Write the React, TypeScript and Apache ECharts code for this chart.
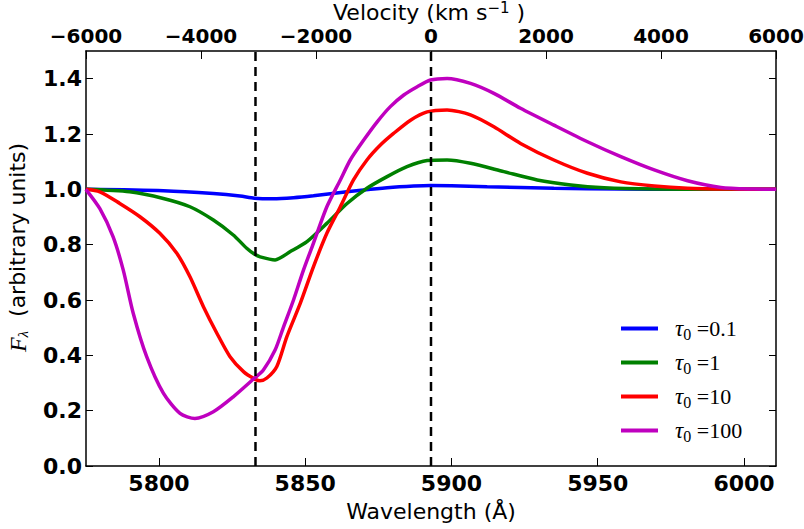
import React, { useEffect, useRef } from "react";
import * as echarts from "echarts";

const wavelengthTicks = [5800, 5850, 5900, 5950, 6000];
const fluxTicks = [0, 0.2, 0.4, 0.6, 0.8, 1.0, 1.2, 1.4];
const markerWavelengths = [5833, 5893];

const blueWave = [5775, 5801.5, 5818.6, 5827.7, 5832.6, 5839.1, 5846, 5852.8, 5860, 5870, 5878, 5887.1, 5892.8, 5900, 5912.2, 5935, 5957.9, 5980, 6011];
const blueFlux = [1.0, 0.995, 0.985, 0.976, 0.968, 0.966, 0.97, 0.977, 0.986, 0.998, 1.006, 1.012, 1.014, 1.013, 1.009, 1.004, 1.001, 1.0, 1.0];

const greenWave = [5775, 5790, 5801.5, 5810.6, 5818.6, 5825.4, 5830, 5832.6, 5834.6, 5839.7, 5844.9, 5850.6, 5857.4, 5864.3, 5871.1, 5878, 5884.8, 5891.7, 5898.5, 5906.5, 5917.9, 5929.3, 5940.8, 5952.2, 5969.3, 5990, 6011];
const greenFlux = [1.0, 0.991, 0.967, 0.937, 0.889, 0.835, 0.787, 0.766, 0.756, 0.745, 0.775, 0.811, 0.877, 0.949, 1.004, 1.046, 1.082, 1.104, 1.106, 1.094, 1.064, 1.034, 1.016, 1.006, 1.001, 1.0, 1.0];

const redWave = [5775, 5779.8, 5786.6, 5793.5, 5800.3, 5806.1, 5810.6, 5815.2, 5819.8, 5824.3, 5828.9, 5832.6, 5834.5, 5836.9, 5840.3, 5843.7, 5848.3, 5852.8, 5857.4, 5862, 5866.5, 5871.1, 5875.7, 5880.2, 5886, 5891.7, 5898.5, 5906.5, 5914.5, 5923.6, 5935, 5946.5, 5957.9, 5969.3, 5980.7, 5995, 6011];
const redFlux = [1.0, 0.991, 0.949, 0.901, 0.841, 0.769, 0.684, 0.576, 0.48, 0.395, 0.341, 0.315, 0.308, 0.318, 0.36, 0.467, 0.588, 0.72, 0.841, 0.937, 1.034, 1.106, 1.16, 1.202, 1.25, 1.28, 1.287, 1.269, 1.226, 1.166, 1.106, 1.058, 1.027, 1.012, 1.004, 1.001, 1.0];

const magentaWave = [5775, 5779.8, 5784.3, 5787.8, 5791.2, 5795.8, 5801.5, 5807.2, 5812.3, 5818.6, 5825.4, 5832.6, 5835.7, 5839.7, 5842.6, 5846, 5849.4, 5852.8, 5857.4, 5862, 5865.4, 5870, 5874.6, 5879.1, 5883.7, 5888.3, 5892.8, 5898.5, 5906.5, 5914.5, 5923.6, 5935, 5946.5, 5957.9, 5969.3, 5980.7, 5992.1, 6003.5, 6011];
const magentaFlux = [1.0, 0.93, 0.829, 0.708, 0.552, 0.395, 0.263, 0.19, 0.172, 0.196, 0.25, 0.317, 0.347, 0.419, 0.503, 0.6, 0.708, 0.805, 0.937, 1.034, 1.106, 1.178, 1.244, 1.299, 1.341, 1.371, 1.395, 1.401, 1.383, 1.347, 1.293, 1.232, 1.172, 1.118, 1.07, 1.031, 1.007, 1.001, 1.0];

const tauLabels = ["0.1", "1", "10", "100"];
const seriesColors = ["#0000ff", "#008000", "#ff0000", "#bf00bf"];

const zip = (xs: number[], ys: number[]) => xs.map((x, i) => [x, ys[i]]);

export default function App() {
  const ref = useRef<HTMLDivElement>(null);
  useEffect(() => {
    if (!ref.current) return;
    const chart = echarts.init(ref.current, null, { renderer: "svg" });
    const waves = [blueWave, greenWave, redWave, magentaWave];
    const fluxes = [blueFlux, greenFlux, redFlux, magentaFlux];
    const names = tauLabels.map((t) => "τ0 =" + t);
    const labelFont = { fontFamily: "DejaVu Sans", fontWeight: "bold" as const, fontSize: 22, color: "#000" };
    const axisLine = { show: true, onZero: false, lineStyle: { color: "#000", width: 1.5 } };
    const series: any[] = waves.map((w, i) => ({
      type: "line",
      name: names[i],
      data: zip(w, fluxes[i]),
      xAxisIndex: 0,
      yAxisIndex: 0,
      showSymbol: false,
      smooth: 0.25,
      lineStyle: { color: seriesColors[i], width: 3.5 },
      itemStyle: { color: seriesColors[i] },
      z: 2 + i,
    }));
    markerWavelengths.forEach((x, i) => {
      series.push({
        type: "line",
        name: "marker" + i,
        data: [
          [x, 0],
          [x, 1.5],
        ],
        xAxisIndex: 0,
        yAxisIndex: 0,
        showSymbol: false,
        silent: true,
        z: 10,
        lineStyle: { color: "#000", width: 2.5, type: [9, 6] },
      });
    });
    chart.setOption({
      animation: false,
      title: {
        text: "{a|Velocity (km s}{sup|−1}{a| )}",
        left: 333,
        top: 0,
        padding: 0,
        textStyle: {
          rich: {
            a: { fontFamily: "DejaVu Sans", fontSize: 22, color: "#000", fontWeight: "normal" },
            sup: { fontFamily: "DejaVu Sans", fontSize: 15, color: "#000", fontWeight: "normal", padding: [0, 0, 10, 0] },
          },
        },
      },
      grid: { left: 86, right: 28, top: 51, bottom: 63, containLabel: false, outerBoundsMode: "none" },
      legend: {
        data: names,
        orient: "vertical",
        left: 616,
        top: 312,
        itemWidth: 37,
        itemHeight: 4,
        itemGap: 9,
        icon: "rect",
        formatter: (n: string) => {
          const idx = names.indexOf(n);
          return "{t|τ}{s|0}{e| =" + tauLabels[idx] + "}";
        },
        textStyle: {
          padding: [0, 0, 0, 12],
          rich: {
            t: { fontFamily: "Liberation Serif", fontStyle: "italic", fontSize: 23, color: "#000" },
            s: { fontFamily: "Liberation Serif", fontSize: 16, color: "#000", padding: [11, 0, 0, 0] },
            e: { fontFamily: "Liberation Serif", fontSize: 22, color: "#000" },
          },
        },
      },
      xAxis: [
        {
          type: "value",
          position: "bottom",
          min: 5775.06,
          max: 6010.94,
          axisLine,
          splitLine: { show: false },
          axisTick: { show: true, inside: true, length: 8, customValues: wavelengthTicks, lineStyle: { color: "#000", width: 1 } },
          axisLabel: { ...labelFont, margin: 6, customValues: wavelengthTicks, formatter: (v: number) => String(v) },
          name: "{a|Wavelength (Å)}",
          nameLocation: "middle",
          nameGap: 34,
          nameTextStyle: { rich: { a: { fontFamily: "DejaVu Sans", fontSize: 22, color: "#000" } } },
        },
        {
          type: "value",
          position: "top",
          min: -6000,
          max: 6000,
          interval: 2000,
          axisLine,
          splitLine: { show: false },
          axisTick: { show: true, inside: true, length: 8, lineStyle: { color: "#000", width: 1 } },
          axisLabel: { ...labelFont, fontSize: 20, margin: 5, formatter: (v: number) => String(v).replace("-", "−") },
        },
      ],
      yAxis: [
        {
          type: "value",
          position: "left",
          min: 0,
          max: 1.5,
          axisLine,
          splitLine: { show: false },
          axisTick: { show: true, inside: true, length: 7, customValues: fluxTicks, lineStyle: { color: "#000", width: 1 } },
          axisLabel: { ...labelFont, margin: 4, customValues: fluxTicks, formatter: (v: number) => v.toFixed(1) },
          name: "{f|F}{sub|λ}{a|  (arbitrary units)}",
          nameLocation: "middle",
          nameGap: 56,
          nameTextStyle: {
            padding: [0, 0, 0, 22],
            rich: {
              f: { fontFamily: "Liberation Serif", fontStyle: "italic", fontSize: 24, color: "#000" },
              sub: { fontFamily: "Liberation Serif", fontStyle: "italic", fontSize: 15, color: "#000", padding: [10, 0, 0, 0] },
              a: { fontFamily: "DejaVu Sans", fontSize: 22, color: "#000" },
            },
          },
        },
        {
          type: "value",
          position: "right",
          min: 0,
          max: 1.5,
          axisLine,
          splitLine: { show: false },
          axisTick: { show: true, inside: true, length: 7, customValues: fluxTicks, lineStyle: { color: "#000", width: 1 } },
          axisLabel: { show: false, customValues: fluxTicks },
        },
      ],
      series,
    });
    return () => chart.dispose();
  }, []);
  return <div ref={ref} style={{ width: 804, height: 529, position: "absolute", left: 0, top: 0 }} />;
}
